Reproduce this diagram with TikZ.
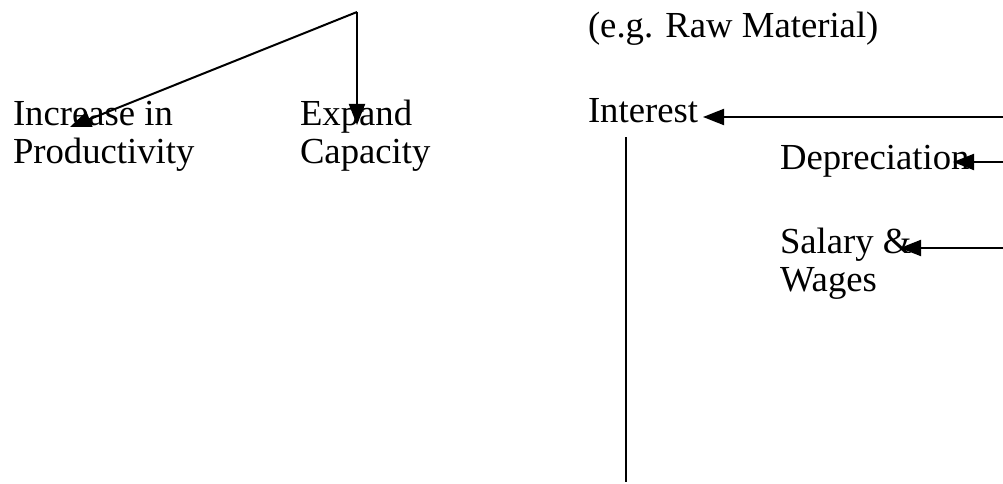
\documentclass[tikz,border=0pt]{standalone}
\usepackage{fontspec}
\setmainfont{Liberation Serif}
\usetikzlibrary{arrows.meta}
\tikzset{
  lbl/.style={font=\fontsize{36.7pt}{38.5pt}\selectfont, inner sep=0pt, outer sep=0pt, anchor=base west, align=left},
  conn/.style={line width=2pt, -{Triangle[length=21pt,width=16pt]}},
  plain/.style={line width=2pt}
}
\begin{document}
\begin{tikzpicture}[x=1pt,y=-1pt]
\useasboundingbox (0,0) rectangle (1003,484);
% text nodes (base anchor of a multi-line node is its last line)
\node[lbl] (inc) at (13,163.5) {Increase in\\Productivity};
\node[lbl] (exp) at (300,163.5) {Expand\\Capacity};
\node[lbl] (raw) at (588,38) {(e.g. Raw Material)};
\node[lbl] (int) at (588,123) {Interest};
\node[lbl] (dep) at (780,169) {Depreciation};
\node[lbl] (sal) at (780,291.5) {Salary \&\\Wages};
% junction and free ends
\coordinate (jn) at (357,12);
\coordinate (incTip) at (70,127);
\coordinate (expTip) at (357,125);
\coordinate (intTip) at (703,117);
\coordinate (intEnd) at (1003,117);
\coordinate (depTip) at (953,162);
\coordinate (depEnd) at (1003,162);
\coordinate (salTip) at (900,248);
\coordinate (salEnd) at (1003,248);
\coordinate (vTop) at (626,137);
\coordinate (vBot) at (626,482);
% connectors
\draw[conn] (jn) -- (incTip);
\draw[conn] (jn) -- (expTip);
\draw[conn] (intEnd) -- (intTip);
\draw[conn] (depEnd) -- (depTip);
\draw[conn] (salEnd) -- (salTip);
\draw[plain] (vTop) -- (vBot);
\end{tikzpicture}
\end{document}
